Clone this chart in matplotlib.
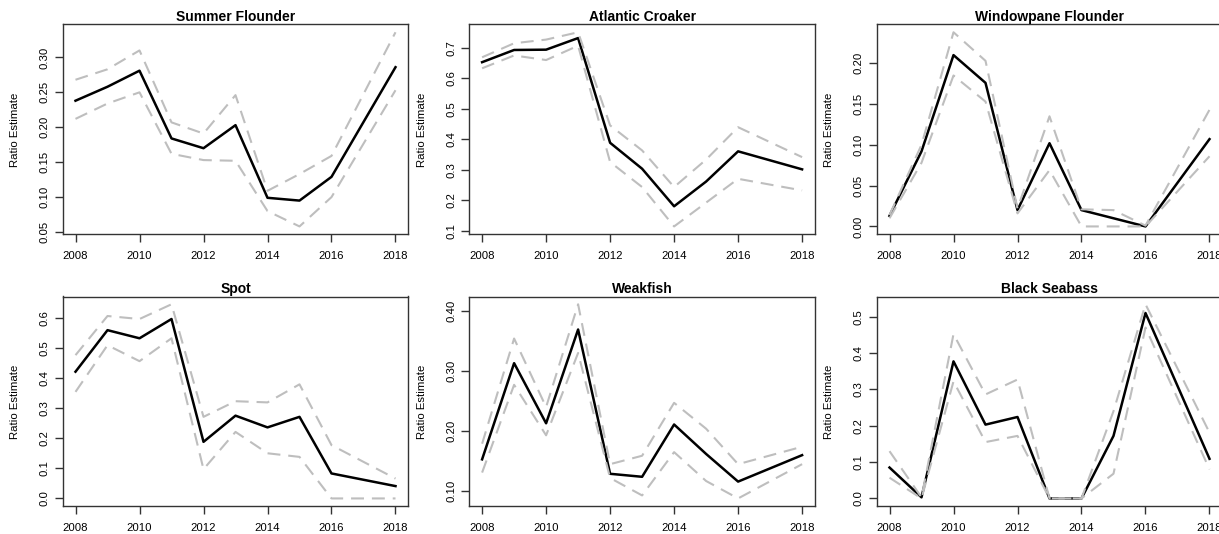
import matplotlib
matplotlib.use('Agg')
import matplotlib.pyplot as plt

plt.rcParams['font.family'] = ['Liberation Sans', 'DejaVu Sans']

# no 2017 survey, the lines join 2016 straight to 2018
years = [2008, 2009, 2010, 2011, 2012, 2013, 2014, 2015, 2016, 2018]
xticks = [2008, 2010, 2012, 2014, 2016, 2018]

summer_est = [0.238, 0.258, 0.281, 0.184, 0.170, 0.203, 0.099, 0.095, 0.129, 0.286]
summer_upper = [0.268, 0.283, 0.310, 0.207, 0.191, 0.246, 0.109, 0.133, 0.159, 0.336]
summer_lower = [0.212, 0.234, 0.250, 0.162, 0.153, 0.152, 0.080, 0.058, 0.100, 0.253]
summer_ticks = ['0.05', '0.10', '0.15', '0.20', '0.25', '0.30']

croaker_est = [0.653, 0.693, 0.694, 0.732, 0.389, 0.304, 0.181, 0.262, 0.361, 0.302]
croaker_upper = [0.669, 0.715, 0.727, 0.751, 0.446, 0.364, 0.244, 0.334, 0.440, 0.342]
croaker_lower = [0.633, 0.675, 0.660, 0.707, 0.326, 0.244, 0.115, 0.193, 0.271, 0.233]
croaker_ticks = ['0.1', '0.2', '0.3', '0.4', '0.5', '0.6', '0.7']

window_est = [0.013, 0.092, 0.210, 0.176, 0.020, 0.102, 0.020, 0.010, 0.000, 0.107]
window_upper = [0.014, 0.100, 0.238, 0.203, 0.022, 0.135, 0.021, 0.020, 0.001, 0.143]
window_lower = [0.010, 0.078, 0.185, 0.153, 0.016, 0.069, 0.000, 0.000, 0.000, 0.086]
window_ticks = ['0.00', '0.05', '0.10', '0.15', '0.20']

spot_est = [0.421, 0.559, 0.532, 0.596, 0.188, 0.275, 0.236, 0.271, 0.083, 0.041]
spot_upper = [0.476, 0.606, 0.596, 0.645, 0.271, 0.323, 0.319, 0.379, 0.177, 0.066]
spot_lower = [0.354, 0.509, 0.456, 0.532, 0.097, 0.221, 0.150, 0.138, 0.000, 0.000]
spot_ticks = ['0.0', '0.1', '0.2', '0.3', '0.4', '0.5', '0.6']

weak_est = [0.153, 0.313, 0.213, 0.369, 0.129, 0.124, 0.211, 0.162, 0.116, 0.160]
weak_upper = [0.179, 0.354, 0.240, 0.411, 0.145, 0.159, 0.247, 0.204, 0.145, 0.174]
weak_lower = [0.131, 0.277, 0.193, 0.330, 0.122, 0.093, 0.165, 0.117, 0.088, 0.145]
weak_ticks = ['0.10', '0.20', '0.30', '0.40']

bass_est = [0.085, 0.003, 0.377, 0.203, 0.224, 0.000, 0.000, 0.172, 0.510, 0.109]
bass_upper = [0.130, 0.003, 0.452, 0.286, 0.327, 0.000, 0.000, 0.240, 0.534, 0.181]
bass_lower = [0.057, 0.000, 0.322, 0.155, 0.172, 0.000, 0.000, 0.068, 0.470, 0.080]
bass_ticks = ['0.0', '0.1', '0.2', '0.3', '0.4', '0.5']

panels = [
    ('Summer Flounder', summer_est, summer_upper, summer_lower, summer_ticks),
    ('Atlantic Croaker', croaker_est, croaker_upper, croaker_lower, croaker_ticks),
    ('Windowpane Flounder', window_est, window_upper, window_lower, window_ticks),
    ('Spot', spot_est, spot_upper, spot_lower, spot_ticks),
    ('Weakfish', weak_est, weak_upper, weak_lower, weak_ticks),
    ('Black Seabass', bass_est, bass_upper, bass_lower, bass_ticks),
]

W, H = 1219.0, 534.0
lefts = [62.7, 469.3, 876.7]
tops = [24.5, 296.5]
box_w, box_h = 345.6, 209.7
frame = '#333333'

fig = plt.figure(figsize=(W / 100, H / 100), dpi=100)

for i, (title, est, upper, lower, ticks) in enumerate(panels):
    left = lefts[i % 3]
    top = tops[i // 3]
    ax = fig.add_axes([left / W, 1 - (top + box_h) / H, box_w / W, box_h / H])

    ax.plot(years, est, color='black', lw=1.8, solid_joinstyle='round')
    ax.plot(years, upper, color='#bebebe', lw=1.5, dashes=(6.2, 3.8))
    ax.plot(years, lower, color='#bebebe', lw=1.5, dashes=(6.2, 3.8))
    ax.margins(0.04)

    ax.set_xticks(xticks)
    ax.set_yticks([float(t) for t in ticks])
    ax.set_yticklabels(ticks, rotation=90, va='center')
    ax.tick_params(direction='out', length=5.5, width=1, color=frame, labelsize=8.2)
    ax.tick_params(axis='x', pad=6.5)
    ax.tick_params(axis='y', pad=4)
    for s in ax.spines.values():
        s.set_color(frame)
        s.set_linewidth(1)

    ax.set_title(title, fontsize=10, fontweight='bold', pad=2.5)
    ax.set_ylabel('Ratio Estimate', fontsize=8.2)
    ax.yaxis.set_label_coords(-0.1235, 0.5)

fig.savefig('out.png', dpi=100)
